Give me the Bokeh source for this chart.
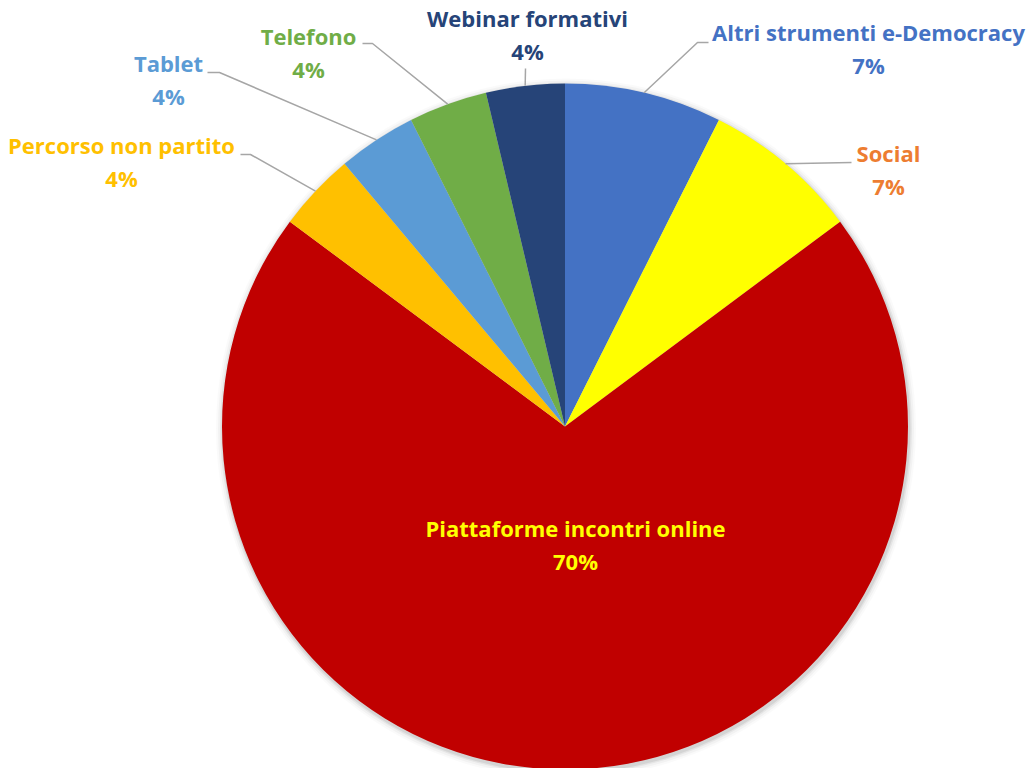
import numpy as np
from bokeh.plotting import figure
from bokeh.models import Range1d
from bokeh.core.properties import value
from bokeh.embed import file_html
from bokeh.resources import INLINE

# ---- data ----
categories = ["Altri strumenti e-Democracy", "Social", "Piattaforme incontri online",
              "Percorso non partito", "Tablet", "Telefono", "Webinar formativi"]
counts = [2, 2, 19, 1, 1, 1, 1]
slice_colors = ["#4472C4", "#FFFF00", "#C00000", "#FFC000", "#5B9BD5", "#70AD47", "#264478"]
label_colors = ["#4472C4", "#ED7D31", "#FFFF00", "#FFC000", "#5B9BD5", "#70AD47", "#264478"]

# ---- layout (screenshot pixel coords) ----
W, H = 1029, 768
def px(x): return x
def py(y): return H - y

CX, CY, R = px(564.5), py(426), 343
TEXT_SHIFT = -2.5
# label centre (first line), and leader-line elbow (None = no leader)
label_pos = {
    "Altri strumenti e-Democracy": (868, 34, [(708, 42), (697, 42)]),
    "Social": (888, 155, [(851, 162)]),
    "Piattaforme incontri online": (575, 530, None),
    "Percorso non partito": (121, 147, [(240, 154), (250, 154)]),
    "Tablet": (168, 65, [(207, 72), (219, 72)]),
    "Telefono": (308, 38, [(362, 43), (372, 43)]),
    "Webinar formativi": (527, 20, [(525, 68)]),
}

p = figure(width=W, height=H, x_range=Range1d(0, W), y_range=Range1d(0, H),
           x_axis_type=None, y_axis_type=None, toolbar_location=None,
           output_backend="svg", min_border=0, outline_line_color=None)
p.grid.visible = False
p.background_fill_color = "white"
p.border_fill_color = "white"

# soft shadow
for k, a in [(7, 0.02), (5, 0.03), (3, 0.05), (1.5, 0.07)]:
    p.circle(x=[CX + 1], y=[CY - 2], radius=R + k, fill_color="#000000",
             fill_alpha=a, line_color=None)

total = sum(counts)
fr = np.array(counts) / total
ends = np.pi / 2 - 2 * np.pi * np.cumsum(fr)
starts = np.concatenate([[np.pi / 2], ends[:-1]])
p.wedge(x=CX, y=CY, radius=R, start_angle=list(ends), end_angle=list(starts),
        fill_color=slice_colors, line_color=None)

pcts = [f"{round(100 * c / total)}%" for c in counts]
xs_t, ys_t, txt, cols = [], [], [], []
lx, ly = [], []
for i, cat in enumerate(categories):
    tx, ty, elbow = label_pos[cat]
    xs_t += [px(tx), px(tx)]
    ys_t += [py(ty + TEXT_SHIFT), py(ty + 33 + TEXT_SHIFT)]
    txt += [cat, pcts[i]]
    cols += [label_colors[i], label_colors[i]]
    if elbow:
        mid = (starts[i] + ends[i]) / 2
        ix, iy = CX + R * np.cos(mid), CY + R * np.sin(mid)
        pts = [(px(a), py(b)) for a, b in elbow] + [(ix, iy)]
        lx.append([q[0] for q in pts])
        ly.append([q[1] for q in pts])

p.multi_line(xs=lx, ys=ly, line_color="#A6A6A6", line_width=1.5)
p.text(x=xs_t, y=ys_t, text=txt, text_color=cols, text_font=value("Open Sans"),
       text_font_style="bold", text_font_size="22px",
       text_align="center", text_baseline="middle")

open("out.html", "w").write(file_html(p, INLINE))
